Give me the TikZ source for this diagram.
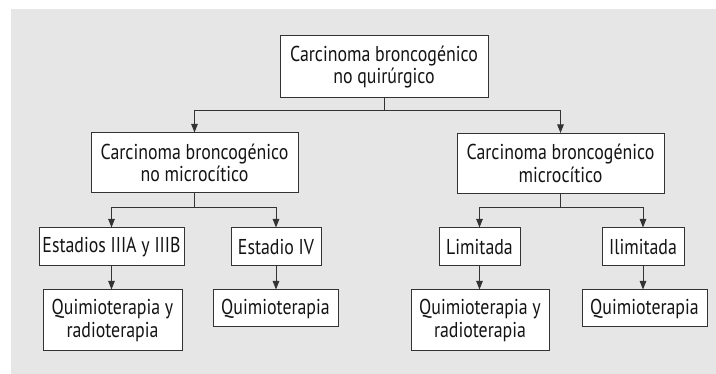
\documentclass[tikz,border=0pt]{standalone}
\usepackage{fontspec}
\setmainfont{PT Sans}[FakeStretch=0.83]
\usetikzlibrary{arrows.meta}
\definecolor{bggray}{HTML}{E6E6E6}
\definecolor{linecol}{HTML}{333333}
\definecolor{txtcol}{HTML}{141414}
\begin{document}
\begin{tikzpicture}[x=1pt,y=-1pt,
  box/.style={draw=linecol, line width=1pt, fill=white, inner sep=0pt,
    align=center, text=txtcol, font=\fontsize{21.5}{22.5}\selectfont, minimum height=#1},
  box/.default=38,
  conn/.style={draw=linecol, line width=1pt},
  arr/.style={conn, -{Triangle[length=8.5pt,width=6.5pt]}}]
\useasboundingbox (0,0) rectangle (716,374);
\fill[bggray] (11,9) rectangle (716,374);
\node[box=62, minimum width=208] (top) at (384,67) {Carcinoma broncogénico\\no quirúrgico};
\node[box=60, minimum width=207] (lm) at (194.5,163) {Carcinoma broncogénico\\no microcítico};
\node[box=60, minimum width=207] (rm) at (560.5,163.5) {Carcinoma broncogénico\\microcítico};
\node[box, minimum width=145] (e3) at (111.5,247) {Estadios IIIA y IIIB};
\node[box, minimum width=90] (e4) at (276,247) {Estadio IV};
\node[box, minimum width=81] (lim) at (479.5,247) {Limitada};
\node[box, minimum width=82] (ilim) at (643,247) {Ilimitada};
\node[box=61, minimum width=139] (q1) at (112.5,320.5) {Quimioterapia y\\radioterapia};
\node[box=37, minimum width=125] (q2) at (275.5,308.5) {Quimioterapia};
\node[box=61, minimum width=138] (q3) at (480,320.5) {Quimioterapia y\\radioterapia};
\node[box=37, minimum width=125] (q4) at (644.5,308.5) {Quimioterapia};
% junctions
\coordinate (j0) at (top.south |- 0,111);
\coordinate (j1) at (lm.south |- 0,208);
\coordinate (j2) at (rm.south |- 0,208);
\draw[conn] (top.south) -- (j0);
\draw[arr] (j0) -| (lm.north);
\draw[arr] (j0) -| (rm.north);
\draw[conn] (lm.south) -- (j1);
\draw[arr] (j1) -| (e3.north);
\draw[arr] (j1) -| (e4.north);
\draw[conn] (rm.south) -- (j2);
\draw[arr] (j2) -| (lim.north);
\draw[arr] (j2) -| (ilim.north);
\draw[arr] (e3.south) -- (e3.south |- q1.north);
\draw[arr] (e4.south) -- (e4.south |- q2.north);
\draw[arr] (lim.south) -- (lim.south |- q3.north);
\draw[arr] (ilim.south) -- (ilim.south |- q4.north);
\end{tikzpicture}
\end{document}
